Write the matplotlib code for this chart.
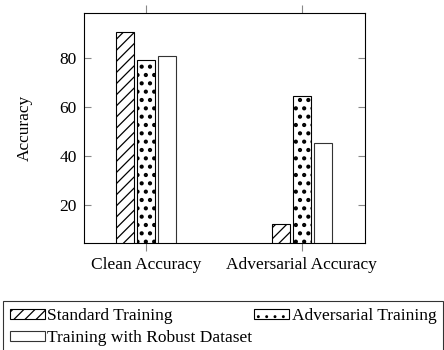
import matplotlib
matplotlib.use("Agg")
import matplotlib.pyplot as plt
import numpy as np

categories = ["Clean Accuracy", "Adversarial Accuracy"]
series_names = ["Standard Training", "Adversarial Training", "Training with Robust Dataset"]
standard = [90.8, 12.2]
adversarial = [79.2, 64.3]
robust = [81.0, 45.1]
yticks = [20, 40, 60, 80]

plt.rcParams["font.family"] = ["Liberation Serif", "DejaVu Serif"]

fs = 12.5
fig = plt.figure(figsize=(4.44, 3.5), dpi=100)
ax = fig.add_axes([0.189, 0.306, 0.633, 0.657])

x = np.arange(len(categories))
w = 0.115
off = 0.135
plt.rcParams["hatch.linewidth"] = 0.9
b1 = ax.bar(x - off, standard, w, facecolor="white", edgecolor="black",
            hatch="///", linewidth=0.8, label=series_names[0])
plt.rcParams["hatch.linewidth"] = 1.8
b2 = ax.bar(x, adversarial, w, facecolor="white", edgecolor="black",
            hatch="..", linewidth=0.8, label=series_names[1])
plt.rcParams["hatch.linewidth"] = 0.9
b3 = ax.bar(x + off, robust, w, facecolor="white", edgecolor="#333333",
            linewidth=0.8, label=series_names[2])

ax.set_xlim(-0.397, 1.404)
ax.set_ylim(4.5, 98.4)
ax.set_xticks(x)
ax.set_xticklabels(categories, fontsize=fs)
ax.set_yticks(yticks)
ax.tick_params(axis="y", direction="in", left=True, right=True, labelsize=fs,
               color="#888888", length=5, width=0.8, pad=5)
ax.tick_params(axis="x", direction="out", top=True, bottom=True, labelsize=fs,
               color="#888888", length=6, width=0.8, pad=4)
for s in ax.spines.values():
    s.set_linewidth(0.8)
ax.set_ylabel("Accuracy", fontsize=fs, labelpad=19)

# reorder so the legend fills row by row
handles = [b1, b3, b2]
labels = [series_names[0], series_names[2], series_names[1]]
leg = fig.legend(handles, labels, loc="upper left", bbox_to_anchor=(0.007, 0.14),
                 ncol=2, frameon=True, fancybox=False, edgecolor="black",
                 fontsize=fs, handlelength=2.0, handleheight=0.55, handletextpad=0.15,
                 columnspacing=0.1, borderpad=0.4, labelspacing=0.35, borderaxespad=0)
leg.get_frame().set_linewidth(0.8)

fig.savefig("out.png", dpi=100)
